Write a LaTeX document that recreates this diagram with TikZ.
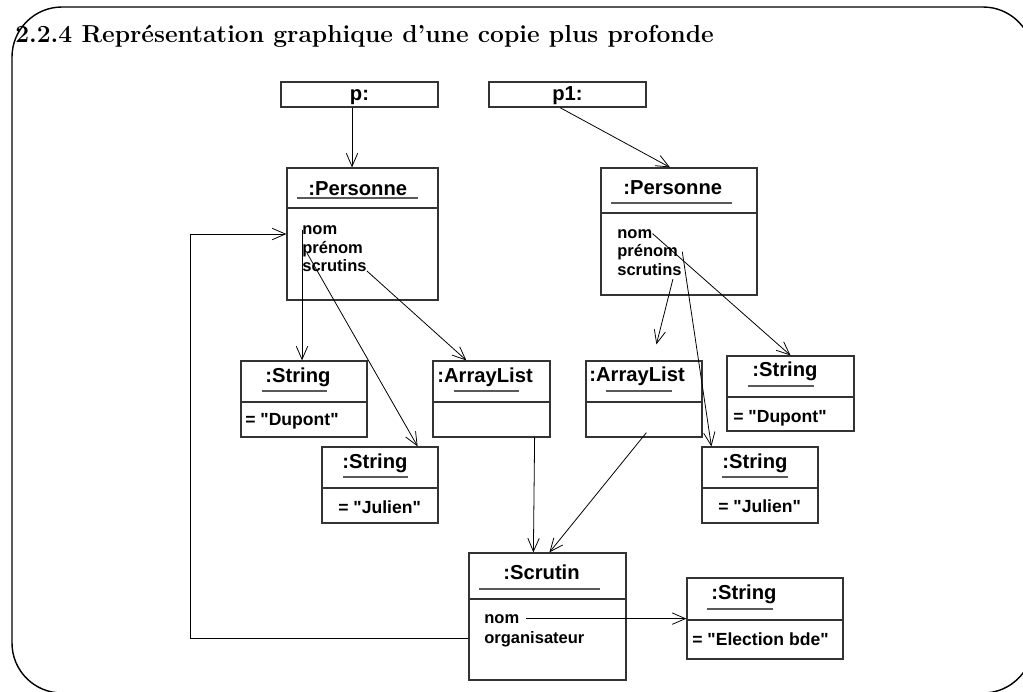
\documentclass[tikz,border=0pt]{standalone}
\usepackage{fontspec}
\newfontfamily\uml{Liberation Sans}
\usetikzlibrary{arrows.meta,calc,fit}

\tikzset{
	objet/.style={draw=black!80, line width=0.7pt, inner sep=0pt},
	titre/.style={font=\uml\bfseries\fontsize{11.5}{13}\selectfont, inner sep=0pt, anchor=base west},
	attr/.style={font=\uml\bfseries\fontsize{9.4}{11}\selectfont, inner sep=0pt, anchor=base west},
	valeur/.style={attr, font=\uml\bfseries\fontsize{10}{12}\selectfont},
	trait/.style={draw=black!80, line width=0.7pt},
	souligne/.style={draw=black!65, line width=0.6pt},
	fleche/.style={-{Straight Barb[length=7.5pt,width=6.5pt]}, line width=0.45pt},
}

\begin{document}
\begin{tikzpicture}[x=0.02cm, y=-0.02cm]
	\useasboundingbox (0,0) rectangle (1023,691);
	\begin{scope}
		\clip (0,0) rectangle (1023,691);
		\draw[rounded corners=1cm, line width=0.8pt] (12,7) rectangle (1033,693);
	\end{scope}

	\node[anchor=base west, inner sep=0pt, font=\fontsize{14}{16}\selectfont\bfseries] (titre) at (15,42) {2.2.4 Représentation graphique d'une copie plus profonde};

	% les boites
	\node[objet, fit={(281,82) (438,107)}] (p) {};
	\node[objet, fit={(489,82) (646,107)}] (p1) {};
	\node[objet, fit={(287,168) (438,300)}] (pers1) {};
	\node[objet, fit={(601,168) (757,295)}] (pers2) {};
	\node[objet, fit={(241,361) (367,437)}] (sd1) {};
	\node[objet, fit={(433,361) (550,437)}] (al1) {};
	\node[objet, fit={(322,447) (438,523)}] (sj1) {};
	\node[objet, fit={(586,361) (702,437)}] (al2) {};
	\node[objet, fit={(727,356) (854,431)}] (sd2) {};
	\node[objet, fit={(702,447) (818,523)}] (sj2) {};
	\node[objet, fit={(469,553) (626,680)}] (scr) {};
	\node[objet, fit={(687,578) (843,659)}] (el) {};

	\draw[trait] (287,208) -- (438,208);
	\draw[trait] (601,213) -- (757,213);
	\draw[trait] (241,402) -- (367,402);
	\draw[trait] (433,402) -- (550,402);
	\draw[trait] (322,488) -- (438,488);
	\draw[trait] (586,402) -- (702,402);
	\draw[trait] (727,397) -- (854,397);
	\draw[trait] (702,488) -- (818,488);
	\draw[trait] (469,599) -- (626,599);
	\draw[trait] (687,620) -- (843,620);

	% les titres
	\node[titre, anchor=base] (pt) at (359.5,100) {p:};
	\node[titre, anchor=base] (p1t) at (567.5,100) {p1:};
	\node[titre] (pers1t) at (308,195) {:Personne};
	\node[titre] (pers2t) at (623,194) {:Personne};
	\node[titre] (sd1t) at (265,382) {:String};
	\node[titre] (al1t) at (437,382) {:ArrayList};
	\node[titre] (sj1t) at (342,468) {:String};
	\node[titre] (al2t) at (589,381) {:ArrayList};
	\node[titre] (sd2t) at (752,376) {:String};
	\node[titre] (sj2t) at (722,468) {:String};
	\node[titre] (scrt) at (503,579) {:Scrutin};
	\node[titre] (elt) at (711,599) {:String};

	\draw[souligne] (297,198) -- (418,198);
	\draw[souligne] (611,203) -- (732,203);
	\draw[souligne] (262,391) -- (327,391);
	\draw[souligne] (454,391) -- (519,391);
	\draw[souligne] (343,477) -- (408,477);
	\draw[souligne] (606,391) -- (672,391);
	\draw[souligne] (748,386) -- (814,386);
	\draw[souligne] (722,477) -- (788,477);
	\draw[souligne] (479,589) -- (600,589);
	\draw[souligne] (707,609) -- (773,609);

	% les attributs
	\node[attr] (pers1nom) at (302,234) {nom};
	\node[attr] (pers1prenom) at (302,253) {prénom};
	\node[attr] (pers1scrutins) at (302,271) {scrutins};
	\node[attr] (pers2nom) at (617,238) {nom};
	\node[attr] (pers2prenom) at (617,256) {prénom};
	\node[attr] (pers2scrutins) at (617,275) {scrutins};
	\node[attr] (scrnom) at (484,623) {nom};
	\node[attr] (scrorg) at (484,643) {organisateur};

	\node[valeur] (sd1v) at (245,425) {= "Dupont"};
	\node[valeur] (sj1v) at (338,513) {= "Julien"};
	\node[valeur] (sd2v) at (733,422) {= "Dupont"};
	\node[valeur] (sj2v) at (718,512) {= "Julien"};
	\node[valeur] (elv) at (692,645) {= "Election bde"};

	% les liens
	\draw[fleche] ($(p.south)+(-7.5,0)$) -- ($(pers1.north)+(-10.5,0)$);
	\draw[fleche] ($(p1.south)+(-7.5,0)$) -- ($(pers2.north)+(-9,0)$);
	\draw[fleche] (pers1nom.west) -- (pers1nom.west |- sd1.north);
	\draw[fleche] ($(pers1prenom.base west)+(5,0)$) -- ($(sj1.north east)+(-21,0)$);
	\draw[fleche] (pers1scrutins.base east) -- ($(al1.north west)+(34,0)$);
	\draw[fleche] (scrorg.west -| scr.west) -- ++(-278,0) |- (pers1nom.base -| pers1.west);
	\draw[fleche] ($(al1.south east)+(-16,0)$) -- ($(scr.north west)+(65,0)$);
	\draw[fleche] ($(al2.south west)+(61,-5)$) -- ($(scr.north west)+(81,0)$);
	\draw[fleche] ($(pers2scrutins.base east)+(-9,4)$) -- ($(al2.north west)+(71,-16)$);
	\draw[fleche] (pers2nom.east) -- (sd2.north);
	\draw[fleche] ($(pers2prenom.east)+(4,0)$) -- ($(sj2.north west)+(10,0)$);
	\draw[fleche] ($(scrnom.east)+(6,0)$) -- (scrnom.east -| el.west);
\end{tikzpicture}
\end{document}
